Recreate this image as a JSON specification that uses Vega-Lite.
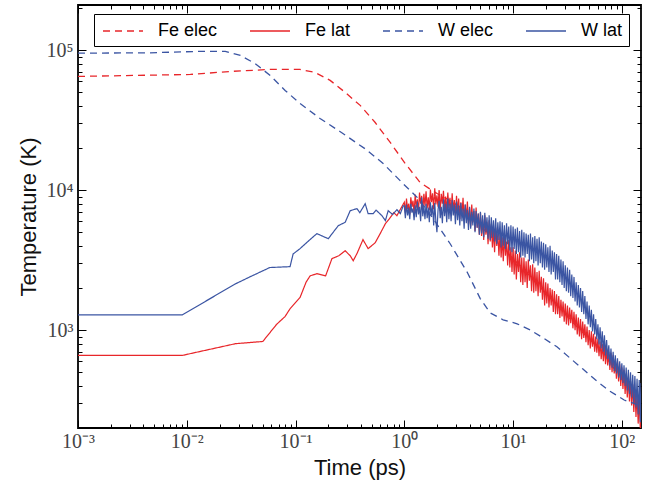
{
  "$schema": "https://vega.github.io/schema/vega-lite/v6.json",
  "width": 563,
  "height": 423,
  "autosize": {"type": "none"},
  "padding": {"left": 78, "top": 5, "right": 8, "bottom": 57},
  "background": "white",
  "config": {
    "view": {"stroke": "black", "strokeWidth": 1.8},
    "axis": {
      "domain": false, "grid": false, "tickColor": "black", "tickWidth": 1,
      "labelFont": "Liberation Serif", "labelFontSize": 20, "labelColor": "#444",
      "titleFont": "Liberation Sans", "titleFontSize": 22, "titleFontWeight": "normal", "titleColor": "#111",
      "labelFlush": false, "labelOverlap": false
    }
  },
  "datasets": {
    "feelec": [
      {"t":0.001,"T":64900},{"t":0.0108,"T":67000},{"t":0.0251,"T":70400},{"t":0.0585,"T":72800},{"t":0.11,"T":72800},{"t":0.151,"T":69300},{"t":0.208,"T":60800},{"t":0.286,"T":49900},{"t":0.393,"T":40300},{"t":0.54,"T":30400},{"t":0.742,"T":21900},{"t":1.02,"T":15500},{"t":1.4,"T":11300},{"t":2.0,"T":9450},{"t":2.64,"T":8410},{"t":3.63,"T":7130},{"t":4.99,"T":5570},{"t":7.62,"T":4010},{"t":11.6,"T":2880},{"t":21.9,"T":1700},{"t":38.8,"T":1056},{"t":67.3,"T":689},{"t":119,"T":368},{"t":150,"T":265}
    ],
    "felat": [
      {"t":0.001,"T":660},{"t":0.0091,"T":660},{"t":0.028,"T":800},{"t":0.05,"T":830},{"t":0.067,"T":1100},{"t":0.08,"T":1250},{"t":0.089,"T":1420},{"t":0.11,"T":1710},{"t":0.125,"T":2200},{"t":0.136,"T":2440},{"t":0.157,"T":2530},{"t":0.189,"T":2440},{"t":0.216,"T":3240},{"t":0.25,"T":3400},{"t":0.286,"T":3690},{"t":0.318,"T":3400},{"t":0.339,"T":3130},{"t":0.367,"T":3520},{"t":0.417,"T":4430},{"t":0.465,"T":3820},{"t":0.54,"T":4210},{"t":0.6,"T":4890},{"t":0.67,"T":5760},{"t":0.742,"T":6360},{"t":0.8,"T":6900},{"t":0.855,"T":6570},{"t":0.92,"T":7300},
      {"t":1.000,"T":8200},{"t":1.023,"T":6900},{"t":1.047,"T":8700},{"t":1.072,"T":7300},{"t":1.096,"T":8000},{"t":1.122,"T":6700},{"t":1.148,"T":8900},{"t":1.175,"T":7600},{"t":1.202,"T":8400},{"t":1.230,"T":6800},
      {"t":1.259,"T":9300},{"t":1.288,"T":7500},{"t":1.318,"T":8600},{"t":1.349,"T":7000},{"t":1.380,"T":9600},{"t":1.413,"T":8000},{"t":1.445,"T":9100},{"t":1.479,"T":7100},{"t":1.514,"T":9400},{"t":1.549,"T":7700},
      {"t":1.585,"T":9800},{"t":1.622,"T":7400},{"t":1.660,"T":8900},{"t":1.698,"T":7200},{"t":1.738,"T":10100},{"t":1.778,"T":8200},{"t":1.820,"T":9500},{"t":1.862,"T":7300},{"t":1.905,"T":10300},{"t":1.950,"T":7900},
      {"t":1.995,"T":9200},{"t":2.042,"T":7600},{"t":2.089,"T":10000},{"t":2.138,"T":7100},{"t":2.188,"T":9400},{"t":2.239,"T":8000},{"t":2.291,"T":9900},{"t":2.344,"T":7300},{"t":2.399,"T":9000},{"t":2.455,"T":7000},
      {"t":2.512,"T":9600},{"t":2.570,"T":7400},{"t":2.630,"T":8800},{"t":2.692,"T":6800},{"t":2.754,"T":9500},{"t":2.818,"T":7200},{"t":2.884,"T":8500},{"t":2.951,"T":6600},{"t":3.020,"T":9100},{"t":3.090,"T":6900},
      {"t":3.162,"T":8700},{"t":3.236,"T":6200},{"t":3.311,"T":8200},{"t":3.388,"T":6600},{"t":3.467,"T":8800},{"t":3.548,"T":6000},{"t":3.631,"T":7900},{"t":3.715,"T":6300},{"t":3.802,"T":8300},{"t":3.890,"T":5700},
      {"t":3.981,"T":7500},{"t":4.074,"T":5500},{"t":4.169,"T":7900},{"t":4.266,"T":5900},{"t":4.365,"T":7100},{"t":4.467,"T":5100},{"t":4.571,"T":7500},{"t":4.677,"T":5400},{"t":4.786,"T":6800},{"t":4.898,"T":4800},
      {"t":5.012,"T":6900},{"t":5.129,"T":4700},{"t":5.248,"T":6200},{"t":5.370,"T":4400},{"t":5.495,"T":6600},{"t":5.623,"T":4800},{"t":5.754,"T":5900},{"t":5.888,"T":4100},{"t":6.026,"T":6100},{"t":6.166,"T":4300},
      {"t":6.310,"T":5700},{"t":6.457,"T":3900},{"t":6.607,"T":5200},{"t":6.761,"T":3600},{"t":6.918,"T":5400},{"t":7.079,"T":4000},{"t":7.244,"T":4900},{"t":7.413,"T":3400},{"t":7.586,"T":5000},{"t":7.762,"T":3300},
      {"t":7.943,"T":4600},{"t":8.128,"T":3100},{"t":8.318,"T":4800},{"t":8.511,"T":3400},{"t":8.710,"T":4300},{"t":8.913,"T":2900},{"t":9.120,"T":4400},{"t":9.333,"T":2800},{"t":9.550,"T":3900},{"t":9.772,"T":2600},
      {"t":10.00,"T":3900},{"t":10.23,"T":2500},{"t":10.47,"T":3700},{"t":10.72,"T":2300},{"t":10.96,"T":3500},{"t":11.22,"T":2600},{"t":11.48,"T":3600},{"t":11.75,"T":2200},{"t":12.02,"T":3300},{"t":12.30,"T":2100},
      {"t":12.59,"T":3300},{"t":12.88,"T":2200},{"t":13.18,"T":3100},{"t":13.49,"T":2000},{"t":13.80,"T":3200},{"t":14.13,"T":2250},{"t":14.45,"T":2900},{"t":14.79,"T":1900},{"t":15.14,"T":2950},{"t":15.49,"T":1850},
      {"t":15.85,"T":2800},{"t":16.22,"T":1900},{"t":16.60,"T":2600},{"t":16.98,"T":1750},{"t":17.38,"T":2650},{"t":17.78,"T":1850},{"t":18.20,"T":2400},{"t":18.62,"T":1650},{"t":19.05,"T":2350},{"t":19.50,"T":1500},
      {"t":19.95,"T":2200},{"t":20.42,"T":1550},{"t":20.89,"T":2150},{"t":21.38,"T":1450},{"t":21.88,"T":2000},{"t":22.39,"T":1500},{"t":22.91,"T":1950},{"t":23.44,"T":1350},{"t":23.99,"T":1900},{"t":24.55,"T":1300},
      {"t":25.12,"T":1800},{"t":25.70,"T":1300},{"t":26.30,"T":1750},{"t":26.92,"T":1220},{"t":27.54,"T":1650},{"t":28.18,"T":1250},{"t":28.84,"T":1600},{"t":29.51,"T":1150},{"t":30.20,"T":1550},{"t":30.90,"T":1100},
      {"t":31.62,"T":1500},{"t":32.36,"T":1080},{"t":33.11,"T":1450},{"t":33.88,"T":1120},{"t":34.67,"T":1400},{"t":35.48,"T":1030},{"t":36.31,"T":1350},{"t":37.15,"T":1000},{"t":38.02,"T":1300},{"t":38.90,"T":930},
      {"t":39.81,"T":1230},{"t":40.74,"T":900},{"t":41.69,"T":1200},{"t":42.66,"T":860},{"t":43.65,"T":1150},{"t":44.67,"T":880},{"t":45.71,"T":1100},{"t":46.77,"T":820},{"t":47.86,"T":1060},{"t":48.98,"T":780},
      {"t":50.12,"T":1000},{"t":51.29,"T":740},{"t":52.48,"T":980},{"t":53.70,"T":760},{"t":54.95,"T":940},{"t":56.23,"T":700},{"t":57.54,"T":900},{"t":58.88,"T":690},{"t":60.26,"T":870},{"t":61.66,"T":650},
      {"t":63.10,"T":830},{"t":64.57,"T":620},{"t":66.07,"T":800},{"t":67.61,"T":600},{"t":69.18,"T":780},{"t":70.79,"T":570},{"t":72.44,"T":740},{"t":74.13,"T":560},{"t":75.86,"T":700},{"t":77.62,"T":520},
      {"t":79.43,"T":690},{"t":81.28,"T":500},{"t":83.18,"T":660},{"t":85.11,"T":490},{"t":87.10,"T":620},{"t":89.13,"T":450},{"t":91.20,"T":600},{"t":93.33,"T":430},{"t":95.50,"T":570},{"t":97.72,"T":400},
      {"t":100.0,"T":540},{"t":102.3,"T":380},{"t":104.7,"T":520},{"t":107.2,"T":350},{"t":109.6,"T":490},{"t":112.2,"T":330},{"t":114.8,"T":460},{"t":117.5,"T":310},{"t":120.2,"T":430},{"t":123.0,"T":290},{"t":125.9,"T":410},{"t":128.8,"T":260},{"t":131.8,"T":380},{"t":134.9,"T":240},{"t":138.0,"T":350},{"t":141.3,"T":215},{"t":144.5,"T":330},{"t":147.9,"T":195},{"t":150,"T":300}
    ],
    "welec": [
      {"t":0.001,"T":95100},{"t":0.00461,"T":95700},{"t":0.0133,"T":98000},{"t":0.0226,"T":98000},{"t":0.0311,"T":91600},{"t":0.0424,"T":80300},{"t":0.0585,"T":65900},{"t":0.0802,"T":51500},{"t":0.11,"T":41600},{"t":0.168,"T":32500},{"t":0.256,"T":26200},{"t":0.434,"T":19800},{"t":0.639,"T":15500},{"t":0.977,"T":11100},{"t":1.32,"T":8840},{"t":1.82,"T":6350},{"t":2.64,"T":4140},{"t":3.81,"T":2570},{"t":4.99,"T":1680},{"t":6.14,"T":1330},{"t":8.1,"T":1185},{"t":10.9,"T":1110},{"t":14.3,"T":1005},{"t":18.9,"T":880},{"t":25.3,"T":760},{"t":33.2,"T":634},{"t":43.6,"T":529},{"t":58.6,"T":434},{"t":76.9,"T":368},{"t":105,"T":317},{"t":150,"T":287}
    ],
    "wlat": [
      {"t":0.001,"T":1286},{"t":0.0091,"T":1286},{"t":0.028,"T":2140},{"t":0.038,"T":2400},{"t":0.058,"T":2800},{"t":0.089,"T":2840},{"t":0.095,"T":3500},{"t":0.11,"T":3820},{"t":0.13,"T":4300},{"t":0.157,"T":4890},{"t":0.2,"T":4500},{"t":0.247,"T":5570},{"t":0.286,"T":5890},{"t":0.318,"T":7130},{"t":0.367,"T":7380},{"t":0.39,"T":6900},{"t":0.437,"T":8000},{"t":0.465,"T":6790},{"t":0.518,"T":6790},{"t":0.55,"T":7200},{"t":0.622,"T":6570},{"t":0.67,"T":6060},{"t":0.711,"T":7130},{"t":0.78,"T":6700},{"t":0.855,"T":7250},{"t":0.92,"T":6800},{"t":0.977,"T":7740},
      {"t":1.000,"T":7700},{"t":1.023,"T":6300},{"t":1.047,"T":7900},{"t":1.072,"T":6600},{"t":1.096,"T":7500},{"t":1.122,"T":6200},{"t":1.148,"T":8000},{"t":1.175,"T":6900},{"t":1.202,"T":7400},{"t":1.230,"T":6100},
      {"t":1.259,"T":7800},{"t":1.288,"T":6400},{"t":1.318,"T":8300},{"t":1.349,"T":6700},{"t":1.380,"T":7600},{"t":1.413,"T":6000},{"t":1.445,"T":8900},{"t":1.479,"T":6500},{"t":1.514,"T":7700},{"t":1.549,"T":6200},
      {"t":1.585,"T":8000},{"t":1.622,"T":6300},{"t":1.660,"T":7500},{"t":1.698,"T":5900},{"t":1.738,"T":8200},{"t":1.778,"T":6600},{"t":1.820,"T":7800},{"t":1.862,"T":5600},{"t":1.905,"T":8100},{"t":1.950,"T":6000},
      {"t":1.995,"T":5000},{"t":2.042,"T":7200},{"t":2.089,"T":8400},{"t":2.138,"T":6300},{"t":2.188,"T":7600},{"t":2.239,"T":5800},{"t":2.291,"T":8600},{"t":2.344,"T":6500},{"t":2.399,"T":8000},{"t":2.455,"T":5900},
      {"t":2.512,"T":8700},{"t":2.570,"T":6200},{"t":2.630,"T":8000},{"t":2.692,"T":6000},{"t":2.754,"T":8500},{"t":2.818,"T":6600},{"t":2.884,"T":7900},{"t":2.951,"T":5700},{"t":3.020,"T":8300},{"t":3.090,"T":6100},
      {"t":3.162,"T":7800},{"t":3.236,"T":5600},{"t":3.311,"T":8100},{"t":3.388,"T":6000},{"t":3.467,"T":7400},{"t":3.548,"T":5300},{"t":3.631,"T":7900},{"t":3.715,"T":5800},{"t":3.802,"T":7200},{"t":3.890,"T":5200},
      {"t":3.981,"T":7600},{"t":4.074,"T":5300},{"t":4.169,"T":7000},{"t":4.266,"T":5600},{"t":4.365,"T":7400},{"t":4.467,"T":5000},{"t":4.571,"T":7100},{"t":4.677,"T":5400},{"t":4.786,"T":6800},{"t":4.898,"T":4800},
      {"t":5.012,"T":7000},{"t":5.129,"T":4900},{"t":5.248,"T":6600},{"t":5.370,"T":4600},{"t":5.495,"T":6900},{"t":5.623,"T":5000},{"t":5.754,"T":6400},{"t":5.888,"T":4500},{"t":6.026,"T":6600},{"t":6.166,"T":4400},
      {"t":6.310,"T":6400},{"t":6.457,"T":4600},{"t":6.607,"T":6100},{"t":6.761,"T":4300},{"t":6.918,"T":6300},{"t":7.079,"T":4100},{"t":7.244,"T":5900},{"t":7.413,"T":4400},{"t":7.586,"T":6000},{"t":7.762,"T":3900},
      {"t":7.943,"T":5900},{"t":8.128,"T":4000},{"t":8.318,"T":5600},{"t":8.511,"T":3800},{"t":8.710,"T":5800},{"t":8.913,"T":4100},{"t":9.120,"T":5500},{"t":9.333,"T":3700},{"t":9.550,"T":5600},{"t":9.772,"T":3600},
      {"t":10.00,"T":5500},{"t":10.23,"T":3800},{"t":10.47,"T":5300},{"t":10.72,"T":3500},{"t":10.96,"T":5400},{"t":11.22,"T":3600},{"t":11.48,"T":5100},{"t":11.75,"T":3300},{"t":12.02,"T":5200},{"t":12.30,"T":3400},
      {"t":12.59,"T":5000},{"t":12.88,"T":3300},{"t":13.18,"T":4900},{"t":13.49,"T":3500},{"t":13.80,"T":4800},{"t":14.13,"T":3100},{"t":14.45,"T":4900},{"t":14.79,"T":3200},{"t":15.14,"T":4600},{"t":15.49,"T":3000},
      {"t":15.85,"T":4700},{"t":16.22,"T":3100},{"t":16.60,"T":4500},{"t":16.98,"T":2900},{"t":17.38,"T":4600},{"t":17.78,"T":3000},{"t":18.20,"T":4300},{"t":18.62,"T":2800},{"t":19.05,"T":4200},{"t":19.50,"T":2700},
      {"t":19.95,"T":4100},{"t":20.42,"T":2800},{"t":20.89,"T":3900},{"t":21.38,"T":2600},{"t":21.88,"T":4000},{"t":22.39,"T":2500},{"t":22.91,"T":3700},{"t":23.44,"T":2600},{"t":23.99,"T":3600},{"t":24.55,"T":2300},
      {"t":25.12,"T":3500},{"t":25.70,"T":2300},{"t":26.30,"T":3400},{"t":26.92,"T":2200},{"t":27.54,"T":3200},{"t":28.18,"T":2100},{"t":28.84,"T":3100},{"t":29.51,"T":2000},{"t":30.20,"T":2900},{"t":30.90,"T":1900},
      {"t":31.62,"T":2800},{"t":32.36,"T":1850},{"t":33.11,"T":2700},{"t":33.88,"T":1750},{"t":34.67,"T":2500},{"t":35.48,"T":1700},{"t":36.31,"T":2400},{"t":37.15,"T":1600},{"t":38.02,"T":2200},{"t":38.90,"T":1500},
      {"t":39.81,"T":2100},{"t":40.74,"T":1450},{"t":41.69,"T":2000},{"t":42.66,"T":1350},{"t":43.65,"T":1900},{"t":44.67,"T":1300},{"t":45.71,"T":1750},{"t":46.77,"T":1200},{"t":47.86,"T":1600},{"t":48.98,"T":1100},
      {"t":50.12,"T":1500},{"t":51.29,"T":1050},{"t":52.48,"T":1400},{"t":53.70,"T":980},{"t":54.95,"T":1300},{"t":56.23,"T":930},{"t":57.54,"T":1200},{"t":58.88,"T":860},{"t":60.26,"T":1100},{"t":61.66,"T":790},
      {"t":63.10,"T":1050},{"t":64.57,"T":740},{"t":66.07,"T":980},{"t":67.61,"T":700},{"t":69.18,"T":920},{"t":70.79,"T":660},{"t":72.44,"T":850},{"t":74.13,"T":620},{"t":75.86,"T":780},{"t":77.62,"T":560},
      {"t":79.43,"T":740},{"t":81.28,"T":540},{"t":83.18,"T":700},{"t":85.11,"T":510},{"t":87.10,"T":660},{"t":89.13,"T":490},{"t":91.20,"T":630},{"t":93.33,"T":460},{"t":95.50,"T":600},{"t":97.72,"T":440},
      {"t":100.0,"T":580},{"t":102.3,"T":420},{"t":104.7,"T":560},{"t":107.2,"T":400},{"t":109.6,"T":540},{"t":112.2,"T":370},{"t":114.8,"T":520},{"t":117.5,"T":350},{"t":120.2,"T":500},{"t":123.0,"T":330},{"t":125.9,"T":480},{"t":128.8,"T":300},{"t":131.8,"T":470},{"t":134.9,"T":280},{"t":138.0,"T":450},{"t":141.3,"T":250},{"t":144.5,"T":440},{"t":147.9,"T":220},{"t":150,"T":420}
    ]
  },
  "data": {"name": "felat"},
  "resolve": {"axis": {"x": "independent", "y": "independent"}},
  "layer": [
    {
      "data": {"name": "feelec"},
      "mark": {"type": "line", "strokeWidth": 1.3, "clip": true},
      "encoding": {
        "x": {"field": "t", "type": "quantitative",
              "scale": {"type": "log", "domain": [0.001, 150], "nice": false},
              "axis": {"orient": "bottom", "values": [0.001, 0.01, 0.1, 1, 10, 100], "tickSize": -8, "labelPadding": 11,
                       "labelExpr": "datum.value < 0.005 ? '10⁻³' : datum.value < 0.05 ? '10⁻²' : datum.value < 0.5 ? '10⁻¹' : datum.value < 5 ? '10⁰' : datum.value < 50 ? '10¹' : '10²'",
                       "title": "Time (ps)", "titlePadding": 6}},
        "y": {"field": "T", "type": "quantitative",
              "scale": {"type": "log", "domain": [200, 210000], "nice": false},
              "axis": {"orient": "left", "values": [1000, 10000, 100000], "tickSize": -8, "labelPadding": 13,
                       "labelExpr": "datum.value < 5000 ? '10³' : datum.value < 50000 ? '10⁴' : '10⁵'",
                       "title": "Temperature (K)", "titlePadding": 6}},
        "color": {"datum": "Fe elec", "type": "nominal",
                  "scale": {"domain": ["Fe elec", "Fe lat", "W elec", "W lat"], "range": ["#e8262a", "#e8262a", "#3b55a3", "#3b55a3"]},
                  "legend": {"title": null, "orient": "none", "legendX": 16, "legendY": 9, "direction": "horizontal",
                             "symbolType": "M-0.8,0H3.2", "symbolSize": 400, "symbolStrokeWidth": 1.5,
                             "labelOffset": 36, "labelFont": "Liberation Sans", "labelFontSize": 18, "labelColor": "black",
                             "columnPadding": 29, "padding": 6, "strokeColor": "black", "fillColor": "white"}},
        "strokeDash": {"datum": "Fe elec", "type": "nominal",
                  "scale": {"domain": ["Fe elec", "Fe lat", "W elec", "W lat"], "range": [[7, 5], [1, 0], [7, 5], [1, 0]]},
                  "legend": {"title": null, "orient": "none", "legendX": 16, "legendY": 9, "direction": "horizontal",
                             "symbolType": "M-0.8,0H3.2", "symbolSize": 400, "symbolStrokeWidth": 1.5,
                             "labelOffset": 36, "labelFont": "Liberation Sans", "labelFontSize": 18, "labelColor": "black",
                             "columnPadding": 29, "padding": 6, "strokeColor": "black", "fillColor": "white"}}
      }
    },
    {
      "data": {"name": "felat"},
      "mark": {"type": "line", "strokeWidth": 1.2, "clip": true},
      "encoding": {
        "x": {"field": "t", "type": "quantitative", "axis": null},
        "y": {"field": "T", "type": "quantitative", "axis": null},
        "color": {"datum": "Fe lat", "type": "nominal"},
        "strokeDash": {"datum": "Fe lat", "type": "nominal"}
      }
    },
    {
      "data": {"name": "welec"},
      "mark": {"type": "line", "strokeWidth": 1.3, "clip": true},
      "encoding": {
        "x": {"field": "t", "type": "quantitative", "axis": null},
        "y": {"field": "T", "type": "quantitative", "axis": null},
        "color": {"datum": "W elec", "type": "nominal"},
        "strokeDash": {"datum": "W elec", "type": "nominal"}
      }
    },
    {
      "data": {"name": "wlat"},
      "mark": {"type": "line", "strokeWidth": 1.2, "clip": true},
      "encoding": {
        "x": {"field": "t", "type": "quantitative", "axis": null},
        "y": {"field": "T", "type": "quantitative", "axis": null},
        "color": {"datum": "W lat", "type": "nominal"},
        "strokeDash": {"datum": "W lat", "type": "nominal"}
      }
    },
    {
      "mark": {"type": "point", "opacity": 0},
      "encoding": {
        "x": {"field": "t", "type": "quantitative", "axis": {"orient": "bottom", "values": [0.002,0.003,0.004,0.005,0.006,0.007,0.008,0.009,0.02,0.03,0.04,0.05,0.06,0.07,0.08,0.09,0.2,0.3,0.4,0.5,0.6,0.7,0.8,0.9,2,3,4,5,6,7,8,9,20,30,40,50,60,70,80,90], "tickSize": -4, "labels": false, "title": null}},
        "y": {"field": "T", "type": "quantitative", "axis": {"orient": "left", "values": [300,400,500,600,700,800,900,2000,3000,4000,5000,6000,7000,8000,9000,20000,30000,40000,50000,60000,70000,80000,90000,200000], "tickSize": -4, "labels": false, "title": null}}
      }
    },
    {
      "mark": {"type": "point", "opacity": 0},
      "encoding": {
        "x": {"field": "t", "type": "quantitative", "axis": {"orient": "top", "values": [0.001, 0.01, 0.1, 1, 10, 100], "tickSize": -8, "labels": false, "title": null}},
        "y": {"field": "T", "type": "quantitative", "axis": {"orient": "right", "values": [1000, 10000, 100000], "tickSize": -8, "labels": false, "title": null}}
      }
    },
    {
      "mark": {"type": "point", "opacity": 0},
      "encoding": {
        "x": {"field": "t", "type": "quantitative", "axis": {"orient": "top", "values": [0.002,0.003,0.004,0.005,0.006,0.007,0.008,0.009,0.02,0.03,0.04,0.05,0.06,0.07,0.08,0.09,0.2,0.3,0.4,0.5,0.6,0.7,0.8,0.9,2,3,4,5,6,7,8,9,20,30,40,50,60,70,80,90], "tickSize": -4, "labels": false, "title": null}},
        "y": {"field": "T", "type": "quantitative", "axis": {"orient": "right", "values": [300,400,500,600,700,800,900,2000,3000,4000,5000,6000,7000,8000,9000,20000,30000,40000,50000,60000,70000,80000,90000,200000], "tickSize": -4, "labels": false, "title": null}}
      }
    }
  ]
}
